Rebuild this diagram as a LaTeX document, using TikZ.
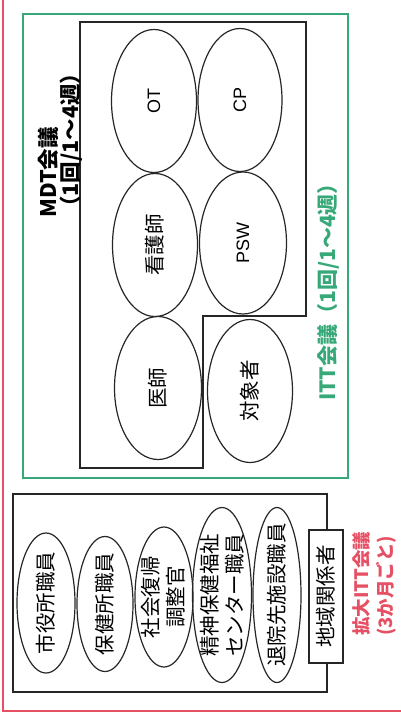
\documentclass[tikz,border=0pt]{standalone}
\usepackage{fontspec}
\setmainfont{Noto Sans CJK JP}
\newfontfamily\lat{Liberation Sans}
\usetikzlibrary{shapes.geometric}
\definecolor{ittgreen}{RGB}{55,168,120}
\definecolor{extred}{RGB}{230,80,100}
\begin{document}
\begin{tikzpicture}[x=1pt,y=-1pt,
  ell/.style={draw=black!85, line width=1.2pt, ellipse, inner sep=0pt, rotate=90},
  lbl/.style={rotate=90, inner sep=0pt, align=center, font=\fontsize{20.5}{25}\selectfont},
  latlbl/.style={rotate=90, inner sep=0pt, font=\lat\fontsize{18}{22}\selectfont},
  frame/.style={line width=1.6pt, draw=black!85}
]
\useasboundingbox (0,0) rectangle (401,720);
% outer red frame (only left and bottom visible)
\draw[extred, line width=1.3pt] (3,-2) -- (3,711) -- (403,711);
% green ITT frame
\draw[ittgreen, line width=1.8pt] (23,14) rectangle (348,478);
% MDT frame
\draw[frame] (80,22) -- (306,22) -- (306,316) -- (203,316) -- (203,468) -- (80,468) -- cycle;
% MDT ellipses
\node[ell, minimum width=143, minimum height=85] (ot) at (154,101) {};
\node[ell, minimum width=143, minimum height=84] (cp) at (240,100) {};
\node[ell, minimum width=143, minimum height=85] (ns) at (155,245) {};
\node[ell, minimum width=142, minimum height=87] (psw) at (243,243) {};
\node[ell, minimum width=143, minimum height=87] (dr) at (158,388) {};
\node[ell, minimum width=143, minimum height=85] (pt) at (250,391) {};
\node[latlbl] (otl) at (ot.center) {OT};
\node[latlbl] (cpl) at (cp.center) {CP};
\node[lbl] (nsl) at (ns.center) {看護師};
\node[latlbl] (pswl) at (psw.center) {PSW};
\node[lbl] (drl) at (dr.center) {医師};
\node[lbl] (ptl) at (pt.center) {対象者};
% MDT title
\node[rotate=90, anchor=west, align=left, inner sep=0pt,
      font=\bfseries\fontsize{21.5}{22}\selectfont] (mdt) at (60,218)
      {MDT会議\\（1回/1～4週）};
% ITT title
\node[rotate=90, inner sep=0pt, text=ittgreen,
      font=\bfseries\fontsize{21}{22}\selectfont] (itt) at (328,287)
      {ITT会議（1回/1～4週）};
% extended ITT frame
\draw[frame] (13,494) rectangle (327,692);
\node[ell, minimum width=140, minimum height=58] (e1) at (46,603) {};
\node[ell, minimum width=135, minimum height=56] (e2) at (105,604) {};
\node[ell, minimum width=140, minimum height=58] (e3) at (164,597) {};
\node[ell, minimum width=175, minimum height=59] (e4) at (222,595) {};
\node[ell, minimum width=175, minimum height=48] (e5) at (277,595) {};
\node[lbl] (e1l) at (e1.center) {市役所職員};
\node[lbl] (e2l) at (e2.center) {保健所職員};
\node[lbl] (e3l) at ([xshift=-1]e3.center) {社会復帰\\調整官};
\node[lbl] (e4l) at (e4.center) {精神保健福祉\\センター職員};
\node[lbl] (e5l) at (e5.center) {退院先施設職員};
\node[draw=black!85, fill=white, line width=1.4pt, rotate=90, inner sep=0pt,
      minimum width=133, minimum height=34,
      font=\fontsize{20.5}{25}\selectfont] (local) at (326,596.5) {地域関係者};
% extended ITT title
\node[rotate=90, anchor=west, align=left, inner sep=0pt, text=extred,
      font=\bfseries\fontsize{18.5}{24}\selectfont] (ext) at (374,636)
      {拡大ITT会議\\(3か月ごと)};
\end{tikzpicture}
\end{document}
